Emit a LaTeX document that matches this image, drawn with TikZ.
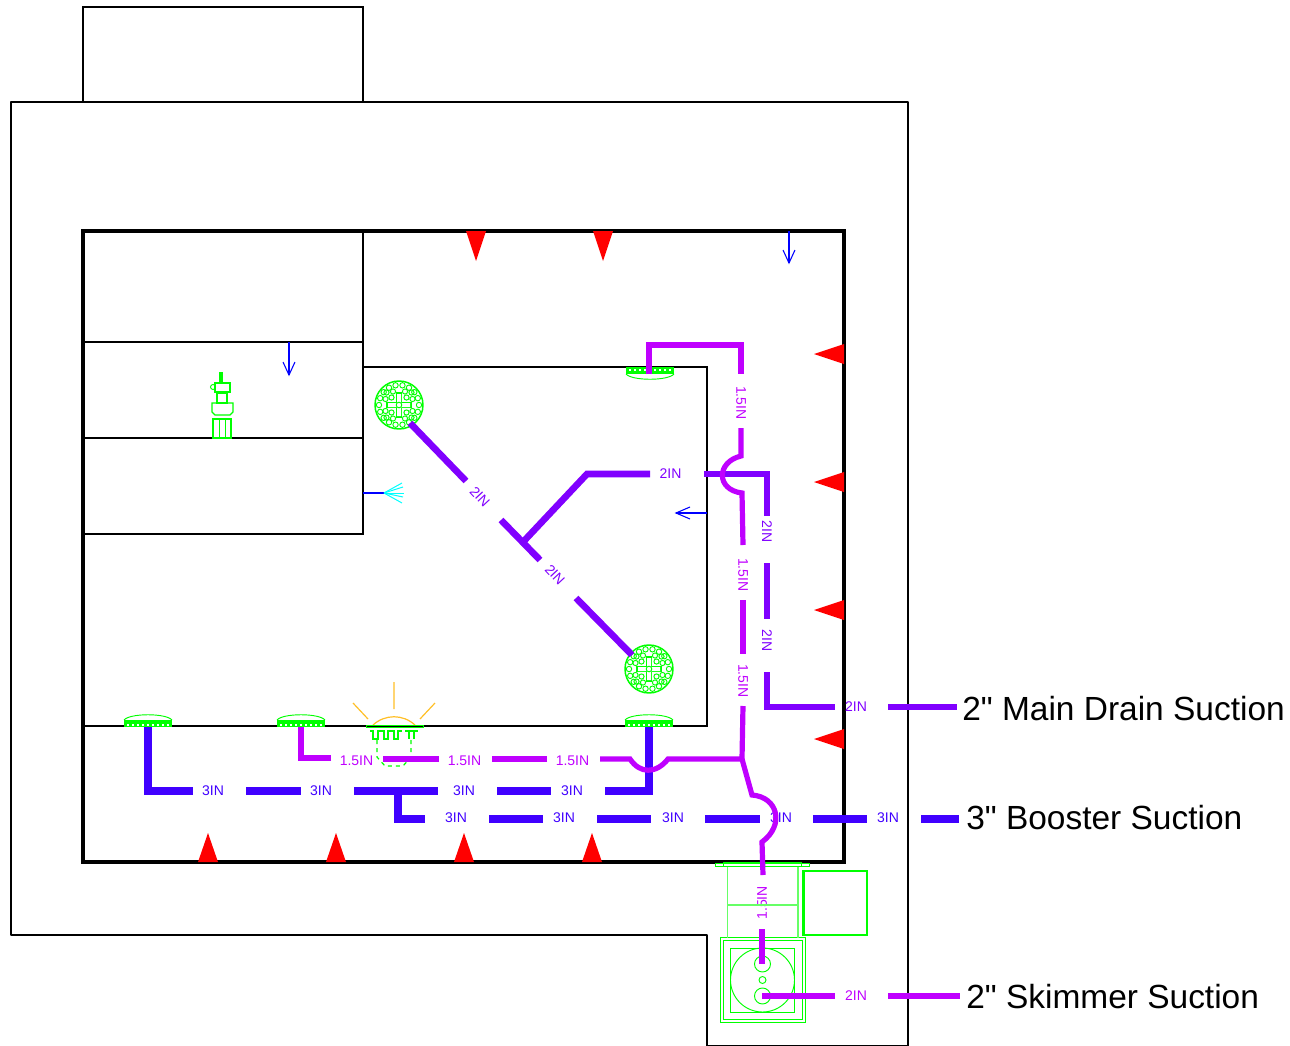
\documentclass[tikz,border=0pt]{standalone}
\usepackage{fontspec}
\setmainfont{Liberation Sans}[Ligatures=TeXOff]
\usepackage{tkz-euclide}
\definecolor{GreenClr}{rgb}{0,1,0}
\definecolor{PaleClr}{rgb}{0.4,1,0.4}
\definecolor{GoldClr}{rgb}{1,0.75,0.15}
\definecolor{CyanClr}{rgb}{0,1,1}
\definecolor{ArrowClr}{rgb}{0,0,1}
\definecolor{ThreeClr}{rgb}{0.25,0,1}
\definecolor{TwoClr}{rgb}{0.5,0,1}
\definecolor{OneClr}{rgb}{0.75,0,1}

\tikzset{
  wall/.style={line width=1pt,color=black},
  thickwall/.style={line width=2.3pt,color=black,line join=miter},
  greenline/.style={line width=.7pt,color=GreenClr},
  paleline/.style={line width=1.1pt,color=PaleClr},
  pipethree/.style={line width=6.4pt,color=ThreeClr,line cap=butt},
  pipetwo/.style={line width=5pt,color=TwoClr,line cap=butt},
  pipeone/.style={line width=3.9pt,color=OneClr,line cap=butt},
  pipeskim/.style={line width=5pt,color=OneClr,line cap=butt},
  sizelabel/.style={font=\fontsize{10.5pt}{12pt}\selectfont,inner sep=0pt,yshift=-.6pt},
  legend/.style={font=\fontsize{25.1pt}{30pt}\selectfont,inner sep=0pt,anchor=west,yshift=-.6pt},
  drain/.pic={
    \draw[greenline,line width=1.1pt] (0,0) circle (24);
    \foreach \a in {0,20,...,340}
      \draw[greenline] (\a:20) circle (2.7);
    \foreach \sx in {-1,1} \foreach \sy in {-1,1} {
      \draw[greenline] (7.5*\sx,7.5*\sy) circle (2.6);
      \draw[greenline] (13.5*\sx,6*\sy) circle (2.6);
      \draw[greenline] (6*\sx,13.5*\sy) circle (2.6);
      \draw[greenline] (12.5*\sx,12.5*\sy) circle (2.6);
    }
    \draw[greenline,line width=1pt] (-2.5,-12) rectangle (2.5,12);
    \draw[greenline,line width=1pt] (-12,-2.5) rectangle (12,2.5);
    \fill[white] (-2,-11) rectangle (2,11) (-11,-2) rectangle (11,2);
    \draw[greenline] (0,0) circle (2.8);
  },
  fitting/.pic={
    \fill[GreenClr] (-24,-2) rectangle (24,5);
    \foreach \i in {-20,-15,...,20}
      \fill[white] (\i-.6,1.5) rectangle (\i+.6,3.5);
    \draw[greenline] (-24,-2) .. controls (-18,-9) and (18,-9) .. (24,-2);
  },
  spray/.style={line width=.75pt,color=CyanClr},
}

\begin{document}
\begin{tikzpicture}[x=.75pt,y=-.75pt]
\useasboundingbox (0,0) rectangle (1290,1046);

\tkzDefPoints{83/102/T1,83/7/T2,363/7/T3,363/102/T4}
\tkzDefPoints{11/102/W1,908/102/W2,908/1046/W3,707/1046/W4,707/935/W5,11/935/W6}
\tkzDefPoints{83/231/P1,844/231/P2,844/862/P3,83/862/P4}
\tkzDefPoints{363/231/R1,363/534/R2,83/534/R3,83/342/R4,363/342/R5,83/438/R6,363/438/R7}
\tkzDefPoints{363/367/S1,707/367/S2,707/726/S3,83/726/S4}

\tkzDrawPolySeg[wall](T1,T2,T3,T4)
\tkzDrawPolygon[wall](W1,W2,W3,W4,W5,W6)
\tkzDrawPolySeg[wall](R1,R2,R3)
\tkzDrawSegments[wall](R4,R5 R6,R7)
\tkzDrawPolySeg[wall](S1,S2,S3,S4)
\draw[thickwall] (P1) -- (P2) -- (P3) -- (P4) -- cycle;

\foreach \x in {476,603} \fill[red] (\x-10,231) -- (\x+10,231) -- (\x,261) -- cycle;
\foreach \y in {354,482,610,739} \fill[red] (844,\y-10) -- (844,\y+10) -- (814,\y) -- cycle;
\foreach \x in {208,336,464,592} \fill[red] (\x-10,862) -- (\x+10,862) -- (\x,833) -- cycle;

\tkzDefPoints{789/231/A1,789/263/A2,289/342/A3,289/375/A4,707/513/A5,676/513/A6}
\foreach \p/\q in {A1/A2,A3/A4,A5/A6}
  \draw[line width=1pt,color=ArrowClr] (\p) -- (\q);
\draw[line width=.8pt,color=ArrowClr] (783,250) -- (A2) -- (795,250);
\draw[line width=.8pt,color=ArrowClr] (283,362) -- (A4) -- (295,362);
\draw[line width=.8pt,color=ArrowClr] (690,507) -- (A6) -- (690,519);

\tkzDefPoints{363/493/C1,384/493/C2}
\draw[line width=1.2pt,color=ArrowClr] (C1) -- (C2);
\foreach \x/\y in {402/483,403/487,404/493,403/497,402/503}
  \draw[spray] (C2) -- (\x,\y);

\pic (drainA) at (399,405) {drain};
\pic (drainB) at (649,669) {drain};

\pic (fitA) at (148,722) {fitting};
\pic (fitB) at (301,722) {fitting};
\pic (fitC) at (649,722) {fitting};
\pic[yscale=-1] (fitD) at (650,372) {fitting};

% heater
\draw[greenline,line width=.9pt] (213,419) rectangle (231,438);
\draw[greenline] (219,419) -- (219,438) (225,419) -- (225,438);
\draw[greenline,line width=.9pt] (212,403) -- (233,403) -- (233,412) -- (230,415) -- (215,415) -- (212,412) -- cycle;
\draw[greenline,line width=.9pt] (217,393) rectangle (227,403);
\draw[greenline,line width=.9pt] (215,383) rectangle (230,392);
\draw[greenline,line width=.9pt] (220,373) rectangle (222,382);
\draw[greenline] (213,387) circle (2.5);

% light
\draw[GoldClr,line width=.9pt] (394,682) -- (394,709) (353,703) -- (368,719) (435,703) -- (420,719);
\draw[GoldClr,line width=.9pt] (373,725) .. controls (385,714) and (403,714) .. (415,725);
\draw[greenline] (366,725) rectangle (423,727.5);
\draw[greenline,line width=1.2pt] (370,731) -- (373,731) -- (373,739) -- (378,739) -- (378,731) -- (384,731) -- (384,739) -- (388,739) -- (388,731) -- (394,731) -- (394,739) -- (398,739) -- (398,731) -- (402,731);
\draw[greenline,line width=1.2pt] (405,731) -- (418,731) (409,731) -- (409,739) (414,731) -- (414,739);
\draw[greenline,line width=.9pt,dashed] (377,740) -- (377,757) -- (385,766) -- (403,766) -- (411,757) -- (411,740);

\node[sizelabel,color=OneClr,rotate=90] (lblK) at (762,902) {1.5IN};

% skimmer
\draw[greenline,line width=.6pt] (720.5,937.5) rectangle (805.5,1022.5);
\draw[greenline,line width=.6pt] (723.5,940.5) rectangle (802.5,1019.5);
\draw[greenline,line width=.6pt] (730,948) rectangle (794.5,1012);
\draw[greenline] (762.5,980) circle (32);
\draw[greenline] (762.5,964) circle (8);
\draw[greenline] (762.5,996) circle (8);
\draw[greenline] (762.5,980) circle (3.5);
\draw[paleline] (727.5,866) -- (727.5,938) (798,866) -- (798,938) (727.5,905) -- (798,905);
\draw[greenline] (715.5,863.5) rectangle (809.5,866);
\draw[greenline] (723,862) rectangle (801,866);
\draw[greenline,line width=2pt] (803.5,871) rectangle (867,935);

\node[sizelabel,color=TwoClr,rotate=-47] (lblA) at (480,496) {2IN};
\node[sizelabel,color=TwoClr,rotate=-47] (lblB) at (555,574) {2IN};
\node[sizelabel,color=TwoClr] (lblC) at (670.5,473) {2IN};
\node[sizelabel,color=TwoClr,rotate=-90] (lblD) at (767,531) {2IN};
\node[sizelabel,color=TwoClr,rotate=-90] (lblE) at (767,640) {2IN};
\node[sizelabel,color=TwoClr] (lblF) at (856,706) {2IN};
\node[sizelabel,color=OneClr] (lblG) at (856,995) {2IN};

\node[sizelabel,color=OneClr,rotate=-90] (lblH) at (741,402) {1.5IN};
\node[sizelabel,color=OneClr,rotate=-90] (lblI) at (743,574) {1.5IN};
\node[sizelabel,color=OneClr,rotate=-90] (lblJ) at (743,680) {1.5IN};
\node[sizelabel,color=OneClr] (lblL) at (356.5,760) {1.5IN};
\node[sizelabel,color=OneClr] (lblM) at (464.5,760) {1.5IN};
\node[sizelabel,color=OneClr] (lblN) at (572.5,760) {1.5IN};

\foreach \n/\x in {a/213,b/321,c/464,d/572}
  \node[sizelabel,color=ThreeClr] (lbl\n) at (\x,790) {3IN};
\foreach \n/\x in {e/456,f/564,g/673,h/781,i/888}
  \node[sizelabel,color=ThreeClr] (lbl\n) at (\x,817) {3IN};

\tkzDefPoints{148/727/B1,148/791/B2,193/791/B3,246/791/B4,301/791/B5,354/791/B6,438/791/B7}
\tkzDefPoints{497/791/B8,551/791/B9,605/791/B10,649/791/B11,649/727/B12}
\tkzDefPoints{398/791/B13,398/819/B14,425/819/B15,489/819/B16,543/819/B17,597/819/B18,651/819/B19}
\tkzDefPoints{705/819/B20,760/819/B21,813/819/B22,867/819/B23,921/819/B24,959/819/B25}
\draw[pipethree] (B1) -- (B2) -- (B3);
\foreach \p/\q in {B4/B5,B6/B7,B8/B9,B16/B17,B18/B19,B20/B21,B22/B23,B24/B25}
  \draw[pipethree] (\p) -- (\q);
\draw[pipethree] (B10) -- (B11) -- (B12);
\draw[pipethree] (B13) -- (B14) -- (B15);

\tkzDefPoints{410/423/D1,466/481/D2,501/520/D3,540/560/D4,576/598/D5,632/655/D6,523/542/D7,587/474/D8,650/474/D9}
\tkzDefPoints{704/474/D10,767/474/D11,767/516/D12,767/563/D13,767/619/D14,767/672/D15,767/707/D16,835/707/D17,888/707/D18,957/707/D19}
\foreach \p/\q in {D1/D2,D3/D4,D5/D6,D13/D14,D18/D19}
  \draw[pipetwo] (\p) -- (\q);
\draw[pipetwo] (D7) -- (D8) -- (D9);
\draw[pipetwo] (D10) -- (D11) -- (D12);
\draw[pipetwo] (D15) -- (D16) -- (D17);

\tkzDefPoints{649/374/E1,649/345/E2,741/345/E3,741/374/E4,741/428/E5,741/456/E6,742/493/E7,743/545/E8,743/600/E9,743/654/E10}
\tkzDefPoints{743/706/E11,742/759/E12,668/759/E13,630/759/E14,600/759/E15,547/759/E16,492/759/E17,439/759/E18,383/759/E19,331/758/E20,301/758/E21,301/727/E22}
\tkzDefPoints{752/795/E23,762/842/E24,763/875/E25,762/929/E26,762/964/E27}
\draw[pipeone] (E1) -- (E2) -- (E3) -- (E4);
\draw[pipeone] (E5) -- (E6) .. controls (716,462) and (716,490) .. (E7) -- (E8);
\draw[pipeone] (E11) -- (E12) -- (E13) .. controls (656,774) and (640,774) .. (E14) -- (E15);
\foreach \p/\q in {E9/E10,E16/E17,E18/E19,E26/E27}
  \draw[pipeone] (\p) -- (\q);
\draw[pipeone] (E20) -- (E21) -- (E22);
\draw[pipeone] (E12) -- (E23) .. controls (778,797) and (785,825) .. (E24) -- (E25);

\tkzDefPoints{762/996/G1,835/996/G2,888/996/G3,960/996/G4}
\foreach \p/\q in {G1/G2,G3/G4}
  \draw[pipeskim] (\p) -- (\q);

\node[legend] (lgdA) at (962,708) {2" Main Drain Suction};
\node[legend] (lgdB) at (966,817) {3" Booster Suction};
\node[legend] (lgdC) at (966,996) {2" Skimmer Suction};

\end{tikzpicture}
\end{document}
